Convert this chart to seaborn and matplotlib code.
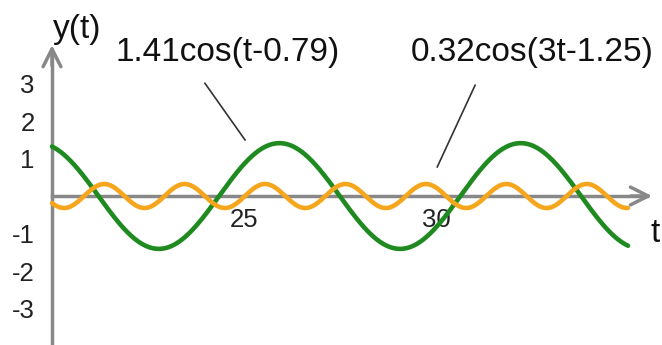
import numpy as np
import pandas as pd
import seaborn as sns
import matplotlib.pyplot as plt

# curve parameters as printed in the labels: A*cos(w*t - phi)
labels = ['1.41cos(t-0.79)', '0.32cos(3t-1.25)']
amplitudes = [1.41, 0.32]
frequencies = [1, 3]
phases = [0.79, 1.25]
t_range = [20, 35]
colors = ['#1f8a1f', '#f5a61c']

x_ticks = [25, 30]
y_ticks = [-3, -2, -1, 1, 2, 3]

t = np.linspace(t_range[0], t_range[1], 600)
frames = []
for lab, a, w, p in zip(labels, amplitudes, frequencies, phases):
    frames.append(pd.DataFrame({'t': t, 'y': a * np.cos(w * t - p), 'curve': lab}))
df = pd.concat(frames)

sns.set_style('white')
plt.rcParams['font.family'] = ['Liberation Sans', 'DejaVu Sans']

fig = plt.figure(figsize=(6.62, 3.45), dpi=100)
ax = fig.add_axes([0, 0, 1, 1])
ax.set_xlim(18.646, 35.885)
ax.set_ylim(-3.973, 5.227)

axis_col = '#888888'
sns.lineplot(data=df, x='t', y='y', hue='curve', palette=colors,
             linewidth=3.3, legend=False, ax=ax, zorder=3)

# axes through (20, 0) with arrow heads
for side in ['top', 'right']:
    ax.spines[side].set_visible(False)
ax.spines['left'].set_position(('data', 20))
ax.spines['bottom'].set_position(('data', 0))
ax.spines['left'].set_bounds(-4, 3.8)
ax.spines['bottom'].set_bounds(20, 35.5)
for side in ['left', 'bottom']:
    ax.spines[side].set_color(axis_col)
    ax.spines[side].set_linewidth(2.5)
ax.annotate('', xy=(35.7, 0), xytext=(35.0, 0),
            arrowprops=dict(arrowstyle='->', color=axis_col, lw=2.5, mutation_scale=32))
ax.annotate('', xy=(20, 4.1), xytext=(20, 3.4),
            arrowprops=dict(arrowstyle='->', color=axis_col, lw=2.5, mutation_scale=32))

ax.set_xticks(x_ticks)
ax.set_yticks(y_ticks)
ax.set_xticklabels([str(v) for v in x_ticks])
ax.set_yticklabels([str(v) for v in y_ticks])
ax.tick_params(axis='both', direction='inout', length=15, width=2, color=axis_col,
               labelsize=18.5, labelcolor='#222222')
ax.tick_params(axis='y', pad=5)
ax.tick_params(axis='x', pad=1)
ax.set_xlabel('')
ax.set_ylabel('')
ax.grid(False)

ax.text(20.65, 4.43, 'y(t)', fontsize=24, ha='center', va='center', color='#111111')
ax.text(35.7, -0.99, 't', fontsize=24, ha='center', va='center', color='#111111')
ax.text(24.58, 3.84, labels[0], fontsize=24, ha='center', va='center', color='#111111')
ax.text(32.5, 3.84, labels[1], fontsize=24, ha='center', va='center', color='#111111')
ax.plot([23.98, 25.03], [3.01, 1.49], color='#333333', lw=1.2)
ax.plot([31.02, 30.03], [2.96, 0.77], color='#333333', lw=1.2)

fig.savefig('out.png', dpi=100)
